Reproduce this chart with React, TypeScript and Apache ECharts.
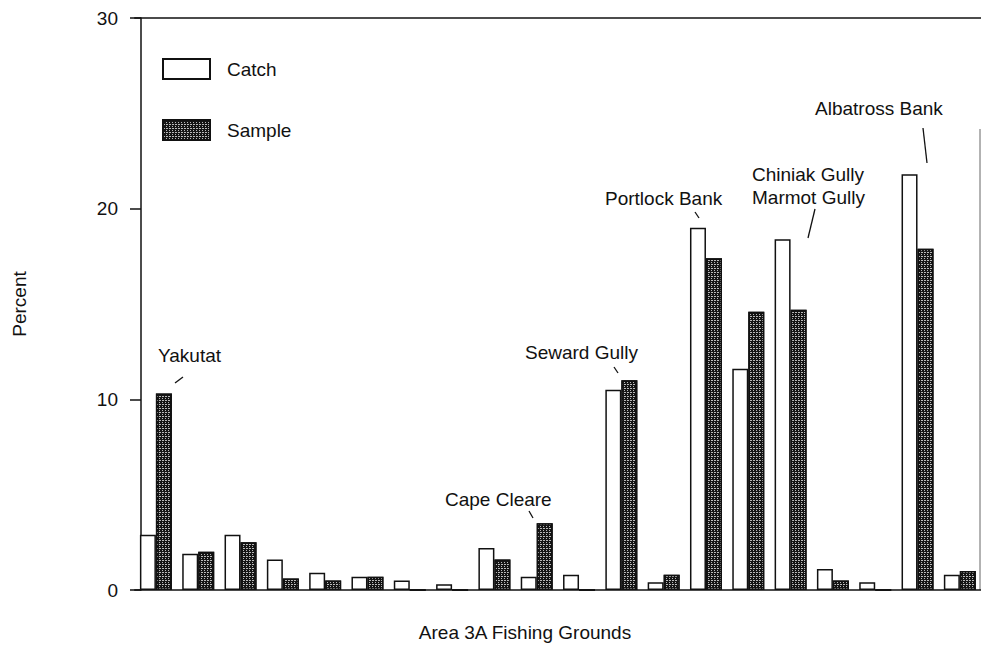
import React, { useEffect, useRef } from "react";
import * as echarts from "echarts";

// Fishing-ground index along the Area 3A coast (west-to-east order, unlabelled on the axis)
const categories = [
  "G1", "G2", "G3", "G4", "G5", "G6", "G7", "G8", "G9", "G10",
  "G11", "G12", "G13", "G14", "G15", "G16", "G17", "G18", "G19", "G20",
];

// Percent of total catch and of sampled fish by ground
const catchPct = [2.9, 1.9, 2.9, 1.6, 0.9, 0.7, 0.5, 0.3, 2.2, 0.7, 0.8, 10.5, 0.4, 19.0, 11.6, 18.4, 1.1, 0.4, 21.8, 0.8];
const samplePct = [10.3, 2.0, 2.5, 0.6, 0.5, 0.7, 0, 0, 1.6, 3.5, 0, 11.0, 0.8, 17.4, 14.6, 14.7, 0.5, 0, 17.9, 1.0];

const yTicks = [0, 10, 20, 30];

// Named grounds called out above their bars
const calloutNames = ["Yakutat", "Cape Cleare", "Seward Gully", "Portlock Bank", "Chiniak Gully\nMarmot Gully", "Albatross Bank"];

// Placement of each callout: text anchor and leader segment
const calloutLayout = [
  { x: 158, y: 355, line: [175, 383, 183, 377] },
  { x: 445, y: 499, line: [529, 511, 533, 518] },
  { x: 525, y: 352, line: [614, 367, 618, 373] },
  { x: 605, y: 198, line: [695, 212, 699, 218] },
  { x: 752, y: 186, line: [815, 209, 808, 238] },
  { x: 815, y: 108, line: [923, 128, 927, 163] },
];

const FONT = '"Liberation Sans", Arial, Helvetica, sans-serif';
const INK = "#111";

export default function App() {
  const ref = useRef<HTMLDivElement>(null);

  useEffect(() => {
    document.body.style.margin = "0";
    if (!ref.current) return;
    const chart = echarts.init(ref.current, null, { renderer: "svg" });

    // speckled dark fill for the sample bars
    const stipple = {
      symbol: "rect",
      symbolSize: 1,
      color: "rgba(185,185,185,1)",
      dashArrayX: [[1, 2], [2, 1]],
      dashArrayY: [1, 1],
      rotation: 0,
    };

    const graphics: any[] = [];
    calloutNames.forEach((name, i) => {
      const l = calloutLayout[i];
      graphics.push({
        type: "text",
        x: l.x,
        y: l.y,
        style: {
          text: name,
          fontSize: 19,
          fontFamily: FONT,
          fill: INK,
          textAlign: "left",
          textVerticalAlign: "middle",
          lineHeight: 23,
        },
      });
      graphics.push({
        type: "line",
        shape: { x1: l.line[0], y1: l.line[1], x2: l.line[2], y2: l.line[3] },
        style: { stroke: INK, lineWidth: 1.3 },
      });
    });
    // x-axis title
    graphics.push({
      type: "text",
      x: 525,
      y: 632,
      style: {
        text: "Area 3A Fishing Grounds",
        fontSize: 19,
        fontFamily: FONT,
        fill: INK,
        textAlign: "center",
        textVerticalAlign: "middle",
      },
    });
    // faint right edge of the frame
    graphics.push({
      type: "line",
      shape: { x1: 980, y1: 129, x2: 980, y2: 590 },
      style: { stroke: "#666", lineWidth: 1 },
    });

    chart.setOption({
      animation: false,
      backgroundColor: "#fff",
      textStyle: { fontFamily: FONT, color: INK },
      grid: { left: 134.75, width: 850, top: 18, height: 572 },
      legend: {
        data: ["Catch", "Sample"],
        orient: "vertical",
        left: 162,
        top: 58,
        padding: 0,
        icon: "rect",
        itemWidth: 47,
        itemHeight: 20,
        itemGap: 39,
        textStyle: { fontSize: 19, fontFamily: FONT, color: INK, padding: [0, 0, 0, 12] },
      },
      xAxis: [
        {
          type: "category",
          data: categories,
          boundaryGap: true,
          axisLine: { lineStyle: { color: INK, width: 1.5 } },
          axisTick: { show: false },
          axisLabel: { show: false },
          splitLine: { show: false },
        },
        {
          type: "category",
          position: "top",
          data: categories,
          axisLine: { lineStyle: { color: INK, width: 1.5 } },
          axisTick: { show: false },
          axisLabel: { show: false },
        },
      ],
      yAxis: {
        type: "value",
        min: yTicks[0],
        max: yTicks[yTicks.length - 1],
        interval: 10,
        offset: -6.25,
        name: "Percent",
        nameLocation: "middle",
        nameGap: 112,
        nameRotate: 90,
        nameTextStyle: { fontSize: 19, fontFamily: FONT, color: INK },
        axisLine: { show: true, lineStyle: { color: INK, width: 1.5 } },
        axisTick: { show: true, length: 11, lineStyle: { color: INK, width: 1.5 } },
        axisLabel: { fontSize: 19, fontFamily: FONT, color: INK, margin: 23 },
        splitLine: { show: false },
      },
      series: [
        {
          name: "Catch",
          type: "bar",
          data: catchPct,
          barWidth: 16,
          barGap: "0%",
          itemStyle: { color: "#fff", borderColor: INK, borderWidth: 1.5 },
        },
        {
          name: "Sample",
          type: "bar",
          data: samplePct,
          barWidth: 16,
          barGap: "0%",
          itemStyle: { color: "#151515", borderColor: INK, borderWidth: 1.5, decal: stipple },
        },
      ],
      graphic: graphics,
    });

    return () => chart.dispose();
  }, []);

  return <div ref={ref} style={{ width: 981, height: 650 }} />;
}
